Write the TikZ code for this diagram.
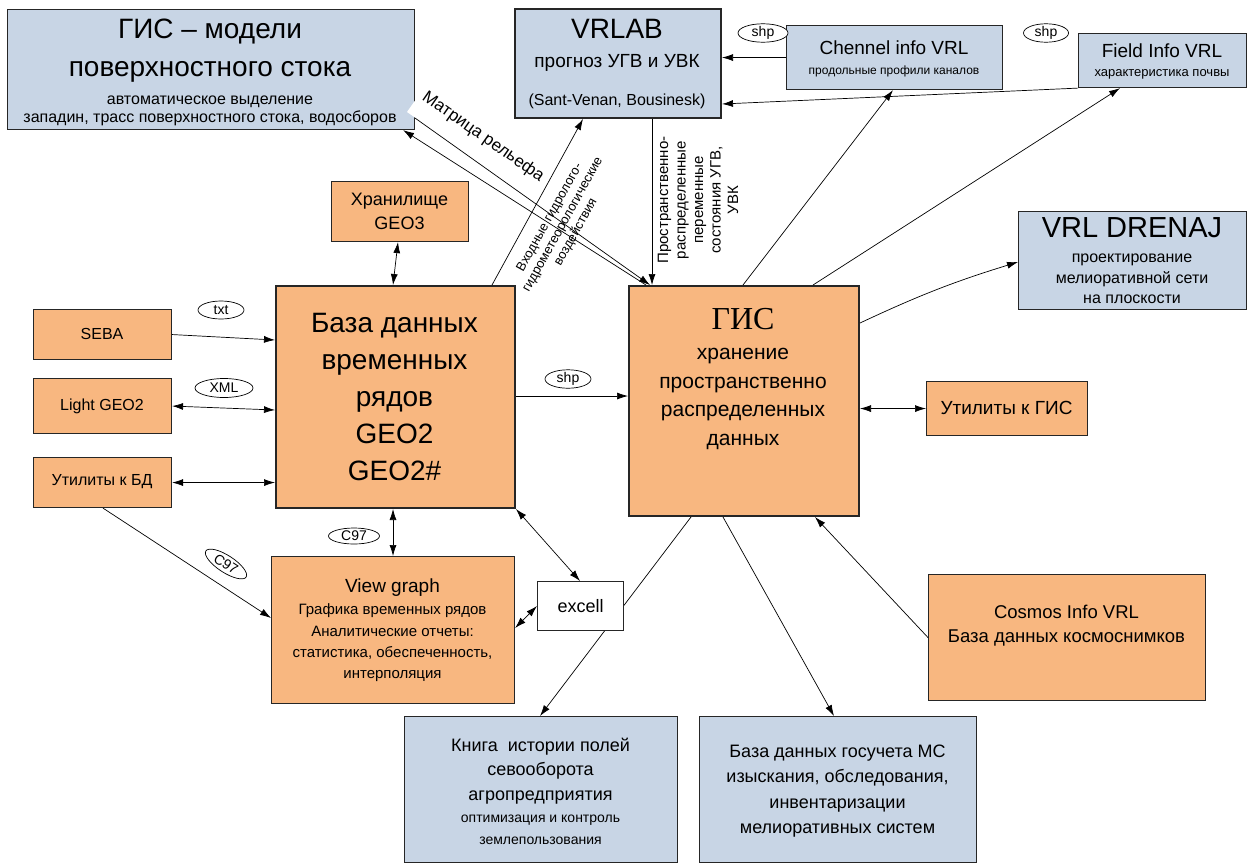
\documentclass[tikz,border=0pt]{standalone}
\usepackage{fontspec}
\setmainfont{Liberation Sans}
\newfontfamily\serifgis{Liberation Serif}
\usetikzlibrary{arrows.meta,shapes.geometric,calc}
\newcommand\fsz[2]{\fontsize{#1}{#2}\selectfont}
\definecolor{orF}{RGB}{248,183,128}
\definecolor{blF}{RGB}{200,213,229}
\begin{document}
\begin{tikzpicture}[x=1pt,y=-1pt,
  box/.style={draw=black!85, line width=1.1pt, inner sep=0pt, anchor=north west},
  obox/.style={box, fill=orF},
  bbox/.style={box, fill=blF},
  heavy/.style={line width=2pt},
  txt/.style={inner sep=0pt, align=center, text=black},
  con/.style={line width=0.7pt, -{Latex[length=11pt,width=7pt]}},
  bi/.style={line width=0.7pt, {Latex[length=11pt,width=7pt]}-{Latex[length=11pt,width=7pt]}},
  tag/.style={draw, line width=0.7pt, ellipse, inner sep=0pt, fill=white, font=\fsz{14}{16}},
]
\useasboundingbox (0,0) rectangle (1247,865);

% ---------- boxes ----------
\node[bbox, minimum width=407pt, minimum height=120pt] (gm) at (7,9) {};
\node[txt, font=\fsz{28}{38}] (gm-a) at (210,51) {ГИС – модели\\поверхностного стока};
\node[txt, font=\fsz{16}{18}] (gm-b) at (210,111) {автоматическое выделение\\западин, трасс поверхностного стока, водосборов};

% white notch of the relief-matrix label
\fill[white] (407,112) -- (421,92) -- (431,99) -- (417,119) -- cycle;
\node[txt, rotate=-35, font=\fsz{17}{20}] (lab-m) at (483,137) {Матрица рельефа};

\node[bbox, heavy, minimum width=206pt, minimum height=109pt] (vrlab) at (514,8) {};
\node[txt, font=\fsz{28}{32}] (vr-a) at (617,29) {VRLAB};
\node[txt, font=\fsz{19}{22}] (vr-b) at (617,63) {прогноз УГВ и УВК};
\node[txt, font=\fsz{16}{18}] (vr-c) at (617,101) {(Sant-Venan, Bousinesk)};

\node[bbox, minimum width=216pt, minimum height=64pt] (chen) at (786,25) {};
\node[txt, font=\fsz{19}{22}] (ch-a) at (894,48) {Chennel info VRL};
\node[txt, font=\fsz{12}{14}] (ch-b) at (894,71) {продольные профили каналов};

\node[bbox, minimum width=168pt, minimum height=54pt] (field) at (1078,33) {};
\node[txt, font=\fsz{19}{22}] (fi-a) at (1162,51) {Field Info VRL};
\node[txt, font=\fsz{13}{15}] (fi-b) at (1162,74) {характеристика почвы};

\node[bbox, minimum width=228pt, minimum height=98pt] (drenaj) at (1018,211) {};
\node[txt, font=\fsz{29}{32}] (dr-a) at (1132,228) {VRL DRENAJ};
\node[txt, font=\fsz{16}{20.5}] (dr-b) at (1132,279) {проектирование\\мелиоративной сети\\на плоскости};

\node[obox, minimum width=137pt, minimum height=60pt] (geo3) at (331,181) {};
\node[txt, font=\fsz{18}{24}] (g3-a) at (399.5,211) {Хранилище\\GEO3};

\node[obox, heavy, minimum width=239pt, minimum height=222pt] (db) at (275,285) {};
\node[txt, font=\fsz{28}{37}] (db-a) at (394.5,397) {База данных\\временных\\рядов\\GEO2\\GEO2\#};

\node[obox, heavy, minimum width=230pt, minimum height=230pt] (gis) at (628,285) {};
\node[txt, font=\fsz{32}{36}\serifgis] (gi-a) at (743,319) {ГИС};
\node[txt, font=\fsz{21}{28.5}] (gi-b) at (743,399) {хранение\\пространственно\\распределенных\\данных};

\node[obox, minimum width=138pt, minimum height=50pt] (seba) at (33,309) {};
\node[txt, font=\fsz{16}{18}] (se-a) at (102,334) {SEBA};
\node[obox, minimum width=138pt, minimum height=55pt] (light) at (33,378) {};
\node[txt, font=\fsz{16}{18}] (li-a) at (102,406) {Light GEO2};
\node[obox, minimum width=138pt, minimum height=50pt] (utbd) at (33,457) {};
\node[txt, font=\fsz{16}{18}] (ub-a) at (102,482) {Утилиты к БД};

\node[obox, minimum width=161pt, minimum height=54pt] (utgis) at (926,381) {};
\node[txt, font=\fsz{19}{22}] (ug-a) at (1006.5,408) {Утилиты к ГИС};

\node[obox, minimum width=243pt, minimum height=147pt] (view) at (271,556) {};
\node[txt, font=\fsz{19}{22}] (vi-a) at (392.5,588) {View graph};
\node[txt, font=\fsz{15}{21.3}] (vi-b) at (392.5,643) {Графика временных рядов\\Аналитические отчеты:\\статистика, обеспеченность,\\интерполяция};

\node[obox, minimum width=277pt, minimum height=126pt] (cosmos) at (928,574) {};
\node[txt, font=\fsz{18.5}{24}] (co-a) at (1066.5,626) {Cosmos Info VRL\\База данных космоснимков};

\node[bbox, minimum width=273pt, minimum height=146pt] (kniga) at (404,716) {};
\node[txt, font=\fsz{18}{24.5}] (kn-a) at (540.5,771) {Книга\ \ истории полей\\севооборота\\агропредприятия};
\node[txt, font=\fsz{14}{22}] (kn-b) at (540.5,830) {оптимизация и контроль\\землепользования};

\node[bbox, minimum width=277pt, minimum height=146pt] (gosuch) at (699,716) {};
\node[txt, font=\fsz{18}{25.3}] (gs-a) at (837.5,791) {База данных госучета МС\\изыскания, обследования,\\инвентаризации\\мелиоративных систем};

% ---------- connector under excell ----------
\draw[con] ($(gis.south west)+(63,0)$) -- ($(kniga.north west)+(136,0)$);

\node[box, fill=white, minimum width=86pt, minimum height=49pt, font=\fsz{18}{22}] (excel) at (537,581) {excell};

% ---------- rotated labels ----------
\node[txt, rotate=61, font=\fsz{13}{15}] (lab-v) at (563,225) {Входные гидролого-\\гидрометеорологические\\воздействия};
\node[txt, rotate=90, font=\fsz{15}{17.5}] (lab-p) at (698,200) {Пространственно-\\распределенные\\переменные\\состояния УГВ,\\УВК};

% ---------- connectors ----------
\draw[con] (seba.east) -- ($(db.north west)+(0,55)$);
\draw[bi] (light.east) -- ($(db.north west)+(0,125)$);
\draw[bi] (utbd.east) -- (utbd.east -| db.west);
\draw[bi] ($(geo3.south west)+(67,0)$) -- ($(db.north west)+(118,0)$);
\draw[bi] ($(db.south west)+(118,0)$) -- ($(view.north west)+(122,0)$);
\draw[bi] (db.south east) -- ($(excel.north west)+(43,0)$);
\draw[bi] ($(view.north east)+(0,72)$) -- ($(excel.north west)+(0,25)$);
\draw[con] ($(utbd.south west)+(70,0)$) -- ($(view.north west)+(0,62)$);
\draw[con] ($(db.north east)+(0,111)$) -- ($(gis.north west)+(0,111)$);
\draw[bi] (utgis.west) -- (utgis.west -| gis.east);
\draw[con] ($(gis.north east)+(0,38)$) to[bend left=4] ($(drenaj.north west)+(0,51)$);
\draw[con] ($(gis.north west)+(115,0)$) -- ($(chen.south west)+(107,0)$);
\draw[con] ($(gis.north west)+(185,0)$) -- ($(field.south west)+(42,0)$);
\draw[con] (chen.west) -- (chen.west -| vrlab.east);
\draw[con] (field.south west) -- ($(vrlab.north east)+(0,96)$);
\draw[con] ($(vrlab.south west)+(138,0)$) -- ($(gis.north west)+(24,0)$);
\draw[con] ($(db.north west)+(217,0)$) -- ($(vrlab.south west)+(69,0)$);
\draw[con] ($(gis.north west)+(18,0)$) -- ($(gm.south east)+(-12,0)$);
\draw[con] ($(gm.south east)+(0,-12)$) -- ($(gis.north west)+(22,0)$);
\draw[con] ($(gis.south west)+(95,0)$) -- ($(gosuch.north west)+(135,0)$);
\draw[con] (cosmos.west) -- ($(gis.south west)+(187,0)$);

% ---------- format tags ----------
\node[tag, minimum width=50pt, minimum height=17pt] (t-shp1) at (763,33) {shp};
\node[tag, minimum width=45pt, minimum height=18pt] (t-shp2) at (1046,33) {shp};
\node[tag, minimum width=46pt, minimum height=18pt] (t-txt) at (221,310) {txt};
\node[tag, minimum width=58pt, minimum height=19pt] (t-xml) at (224,388) {XML};
\node[tag, minimum width=46pt, minimum height=16pt] (t-shp3) at (568,379) {shp};
\node[tag, minimum width=51pt, minimum height=16pt] (t-c97a) at (354,536) {C97};
\node[tag, minimum width=48pt, minimum height=17pt, rotate=-33] (t-c97b) at (226,564) {C97};
\end{tikzpicture}
\end{document}
